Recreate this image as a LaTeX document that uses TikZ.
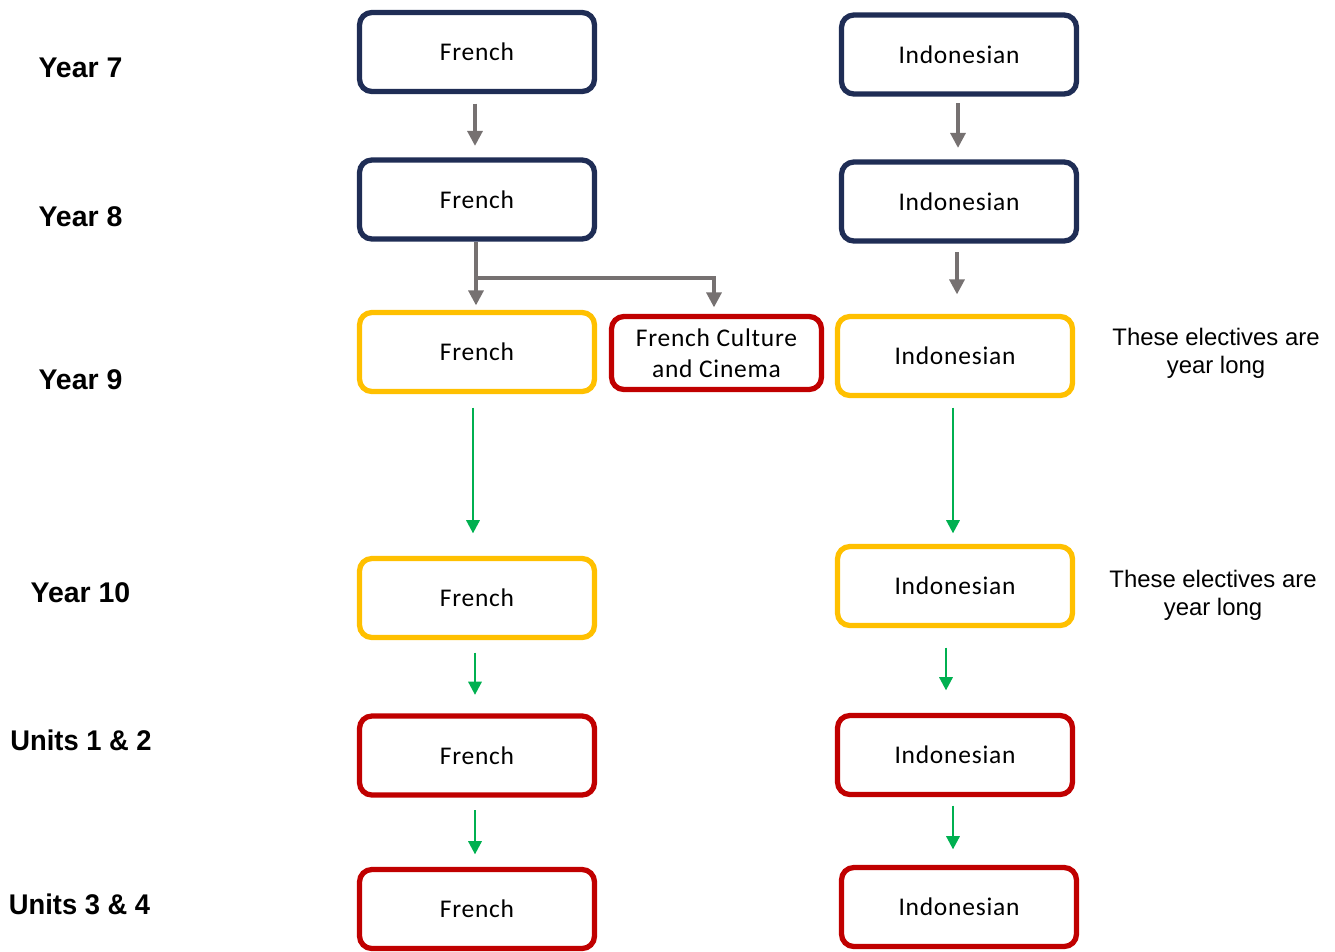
\documentclass[tikz,border=0pt]{standalone}
\usepackage{fontspec}
\setmainfont{Liberation Sans}
\newfontfamily\boxfont{Carlito}[LetterSpace=3]
\usetikzlibrary{arrows.meta,calc}
\definecolor{navy}{HTML}{1F2D55}
\definecolor{gold}{HTML}{FFC000}
\definecolor{crimson}{HTML}{C00000}
\definecolor{arrgray}{HTML}{767171}
\definecolor{arrgreen}{HTML}{00B050}
\begin{document}
\begin{tikzpicture}[x=0.02cm,y=-0.02cm,
  box/.style={draw,line width=3pt,rounded corners=7pt,fill=white,inner sep=0pt,
    minimum width=4.7cm,minimum height=1.58cm,font=\boxfont\fontsize{14.5}{17.5}\selectfont,align=center},
  navybox/.style={box,draw=navy},
  goldbox/.style={box,draw=gold},
  redbox/.style={box,draw=crimson},
  yearlab/.style={font=\bfseries\fontsize{16.2}{19}\selectfont},
  sidenote/.style={font=\fontsize{13.6}{15.9}\selectfont,align=center},
  grayarrow/.style={draw=arrgray,line width=1.9pt,-{Triangle[length=8.5pt,width=8.5pt]}},
  greenarrow/.style={draw=arrgreen,line width=1.5pt,-{Triangle[length=7.5pt,width=7.5pt]}}]
\useasboundingbox (0,0) rectangle (1335,951);

% labels
\node[yearlab] (l7) at (80.5,68) {Year 7};
\node[yearlab] (l8) at (80.5,217) {Year 8};
\node[yearlab] (l9) at (80.5,380) {Year 9};
\node[yearlab] (l10) at (80.5,593) {Year 10};
\node[yearlab,xscale=0.96] (l12) at (81,740) {Units 1 \& 2};
\node[yearlab,xscale=0.96] (l34) at (79.5,904) {Units 3 \& 4};

% French column
\node[navybox] (fy7) at (477,52) {French};
\node[navybox] (fy8) at (477,199.5) {French};
\node[goldbox] (fy9) at (477,352) {French};
\node[goldbox] (fy10) at (477,598) {French};
\node[redbox] (fu12) at (477,755.5) {French};
\node[redbox] (fu34) at (477,909) {French};
\node[redbox,minimum width=4.2cm,minimum height=1.46cm] (cult) at (716.5,353) {French Culture\\and Cinema};

% Indonesian column
\node[navybox] (iy7) at (959,54.5) {Indonesian};
\node[navybox] (iy8) at (959,201.5) {Indonesian};
\node[goldbox] (iy9) at (955,356) {Indonesian};
\node[goldbox] (iy10) at (955,586) {Indonesian};
\node[redbox] (iu12) at (955,755) {Indonesian};
\node[redbox] (iu34) at (959,907) {Indonesian};

% side notes
\node[sidenote] (n9) at (1216,353) {These electives are\\year long};
\node[sidenote] (n10) at (1213,595) {These electives are\\year long};

% gray arrows
\draw[grayarrow,shorten <=0.19cm,shorten >=0.23cm] ($(fy7.south)+(-2,0)$) -- ($(fy8.north)+(-2,0)$);
\draw[grayarrow,shorten <=0.13cm,shorten >=0.23cm] ($(iy7.south)+(-1,0)$) -- ($(iy8.north)+(-1,0)$);
\draw[grayarrow,shorten <=0.05cm,shorten >=0.09cm] ($(fy8.south)+(-1,0)$) -- ($(fy9.north)+(-1,0)$);
\draw[grayarrow,shorten >=0.13cm] ($(fy8.south)+(-1,0)$) -- ++(0,36.5) -| ($(cult.north)+(-2.5,0)$);
\draw[grayarrow,shorten <=0.17cm,shorten >=0.39cm] ($(iy8.south)+(-2,0)$) -- ($(iy8.south |- iy9.north)+(-2,0)$);

% green arrows
\draw[greenarrow,shorten <=0.27cm,shorten >=0.45cm] ($(fy9.south)+(-4,0)$) -- ($(fy10.north)+(-4,0)$);
\draw[greenarrow,shorten <=0.19cm,shorten >=0.21cm] ($(iy9.south)+(-2,0)$) -- ($(iy10.north)+(-2,0)$);
\draw[greenarrow,shorten <=0.25cm,shorten >=0.37cm] ($(fy10.south)+(-2,0)$) -- ($(fu12.north)+(-2,0)$);
\draw[greenarrow,shorten <=0.39cm,shorten >=0.45cm] ($(iy10.south)+(-9,0)$) -- ($(iu12.north)+(-9,0)$);
\draw[greenarrow,shorten <=0.25cm,shorten >=0.25cm] ($(fu12.south)+(-2,0)$) -- ($(fu34.north)+(-2,0)$);
\draw[greenarrow,shorten <=0.17cm,shorten >=0.31cm] ($(iu12.south)+(-2,0)$) -- ($(iu12.south |- iu34.north)+(-2,0)$);
\end{tikzpicture}
\end{document}
